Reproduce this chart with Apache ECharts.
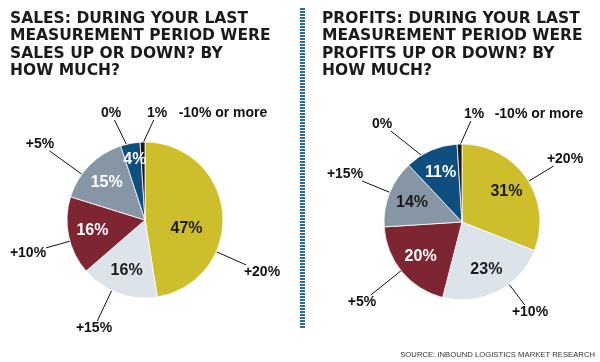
<!DOCTYPE html>
<html>
<head>
<meta charset="utf-8">
<script src="https://cdn.jsdelivr.net/npm/echarts@6/dist/echarts.min.js"></script>
<style>
html,body{margin:0;padding:0;background:#fff;}
#chart{width:600px;height:362px;}
</style>
</head>
<body>
<div id="chart"></div>
<script>
// ---- data ----
const salesTitle = 'SALES: DURING YOUR LAST\nMEASUREMENT PERIOD WERE\nSALES UP OR DOWN? BY\nHOW MUCH?';
const profitsTitle = 'PROFITS: DURING YOUR LAST\nMEASUREMENT PERIOD WERE\nPROFITS UP OR DOWN? BY\nHOW MUCH?';
const salesCategories = ['+20%', '+15%', '+10%', '+5%', '0%', '-10% or more'];
const salesValues = [47, 16, 16, 15, 4, 1];
const profitsCategories = ['+20%', '+10%', '+5%', '+15%', '0%', '-10% or more'];
const profitsValues = [31, 23, 20, 14, 11, 1];
const sourceText = 'SOURCE: INBOUND LOGISTICS MARKET RESEARCH';

// ---- styles / layout ----
const sliceColors = ['#cfbe2b', '#dce3ea', '#7e2532', '#8796a5', '#0f4f80', '#1c1a1a'];
const R = 78;
const pies = [
  {
    cats: salesCategories, vals: salesValues, center: [145, 220],
    innerColors: ['#1a1a1a', '#1a1a1a', '#ffffff', '#ffffff', '#ffffff'],
    innerShift: [[-12, 13], [0, 0], [0, 0], [0, 0], [0, -8]],
    outerPos: [[262, 272], [94, 328], [28, 253], [40, 144], [111, 113], [157, 113]],
    namePos: [223, 113]
  },
  {
    cats: profitsCategories, vals: profitsValues, center: [462, 222],
    innerColors: ['#1a1a1a', '#1a1a1a', '#ffffff', '#1a1a1a', '#ffffff'],
    innerShift: [[0, 0], [0, 0], [0, 0], [0, 0], [0, 0]],
    outerPos: [[565, 159], [530, 312], [362, 302], [345, 174], [382, 124], [474, 114]],
    namePos: [539, 114]
  }
];
const LAST = 5;
const labelFont = 'Liberation Sans';
const INSET = 0.3;

function norm(a) { a = a % 360; return a < 0 ? a + 360 : a; }
function circDist(a, b) { const d = Math.abs(norm(a) - norm(b)); return Math.min(d, 360 - d); }

// leader line: from the slice's rim toward the label, ending at the label box
function leaderLine(p, idx, pos, rc) {
  const total = p.vals.reduce(function (s, v) { return s + v; }, 0);
  let cum = 0;
  for (let j = 0; j < idx; j++) cum += p.vals[j];
  const a0 = cum / total * 360, a1 = (cum + p.vals[idx]) / total * 360;
  const lo = a0 + INSET * (a1 - a0), hi = a1 - INSET * (a1 - a0);
  const cx = p.center[0], cy = p.center[1];
  let ang = norm(Math.atan2(pos[0] - cx, -(pos[1] - cy)) * 180 / Math.PI);
  if (!(ang >= lo && ang <= hi)) ang = circDist(ang, lo) <= circDist(ang, hi) ? lo : hi;
  const rad = ang * Math.PI / 180;
  const sx = cx + R * Math.sin(rad), sy = cy - R * Math.cos(rad);
  const dx = pos[0] - sx, dy = pos[1] - sy;
  const hw = rc.width / 2, hh = rc.height / 2;
  const s = Math.min(dx !== 0 ? hw / Math.abs(dx) : Infinity, dy !== 0 ? hh / Math.abs(dy) : Infinity);
  return [[sx, sy], [pos[0] - s * dx, pos[1] - s * dy]];
}

const series = [];
pies.forEach(function (p) {
  const data = p.cats.map(function (c, i) { return { name: c, value: p.vals[i] }; });
  // coloured pie with outside labels
  series.push({
    type: 'pie',
    center: p.center,
    radius: R,
    startAngle: 90,
    clockwise: true,
    avoidLabelOverlap: false,
    silent: true,
    data: data.map(function (d, i) {
      return Object.assign({}, d, { itemStyle: { color: sliceColors[i] } });
    }),
    itemStyle: { borderColor: '#ffffff', borderWidth: 0.8 },
    label: {
      show: true,
      position: 'outside',
      fontFamily: labelFont,
      fontWeight: 'bold',
      fontSize: 14,
      color: '#111',
      padding: [5, 4, 5, 4],
      formatter: function (prm) {
        return prm.dataIndex === LAST ? prm.value + '%' : prm.name;
      }
    },
    labelLine: { show: true, length: 15, length2: 0, lineStyle: { color: '#111', width: 1 } },
    labelLayout: function (prm) {
      const pos = p.outerPos[prm.dataIndex];
      return {
        x: pos[0], y: pos[1], align: 'center', verticalAlign: 'middle',
        labelLinePoints: leaderLine(p, prm.dataIndex, pos, prm.labelRect)
      };
    }
  });
  // transparent ring carrying the inside value labels
  series.push({
    type: 'pie',
    center: p.center,
    radius: [R * 0.3, R],
    startAngle: 90,
    clockwise: true,
    avoidLabelOverlap: false,
    silent: true,
    data: data.map(function (d, i) {
      return Object.assign({}, d, {
        label: { color: i === LAST ? '#111' : p.innerColors[i] }
      });
    }),
    itemStyle: { color: 'rgba(0,0,0,0)', borderWidth: 0 },
    label: {
      show: true,
      position: 'inside',
      fontFamily: labelFont,
      fontWeight: 'bold',
      fontSize: 16,
      formatter: function (prm) {
        return prm.dataIndex === LAST ? prm.name : prm.value + '%';
      }
    },
    labelLine: { show: false },
    labelLayout: function (prm) {
      const rc = prm.labelRect;
      if (prm.dataIndex === LAST) {
        return { x: p.namePos[0], y: p.namePos[1], align: 'center', verticalAlign: 'middle', fontSize: 14 };
      }
      const s = p.innerShift[prm.dataIndex];
      return {
        x: rc.x + rc.width / 2 + s[0], y: rc.y + rc.height / 2 + s[1],
        align: 'center', verticalAlign: 'middle'
      };
    }
  });
});

const titleStyle = { fontFamily: 'DejaVu Sans', fontWeight: 'bold', fontSize: 15.5, lineHeight: 17.5, color: '#1a1a1a' };
const chart = echarts.init(document.getElementById('chart'), null, { renderer: 'canvas' });
chart.setOption({
  backgroundColor: '#ffffff',
  animation: false,
  title: [
    { text: salesTitle, left: 5, top: 5, textStyle: titleStyle },
    { text: profitsTitle, left: 317, top: 5, textStyle: titleStyle },
    {
      text: sourceText, right: 0, top: 346,
      textStyle: { fontFamily: 'Liberation Sans', fontWeight: 'normal', fontSize: 7.7, color: '#333' }
    }
  ],
  graphic: [
    {
      type: 'line', silent: true,
      shape: { x1: 302.5, y1: 8, x2: 302.5, y2: 328 },
      style: { stroke: '#2f6a97', lineWidth: 5, lineDash: [2, 1] }
    }
  ],
  series: series
});
</script>
</body>
</html>
